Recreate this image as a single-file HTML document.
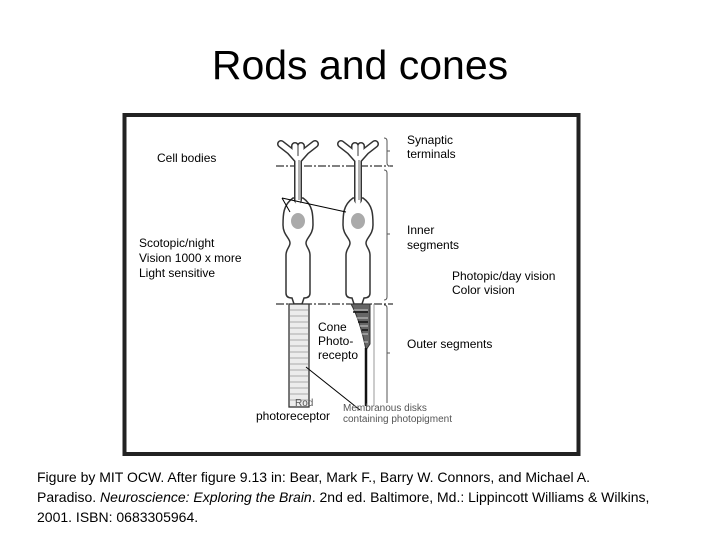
<!DOCTYPE html>
<html><head><meta charset="utf-8"><style>
body{margin:0;width:720px;height:540px;background:#fff;position:relative;overflow:hidden;font-family:"Liberation Sans",sans-serif;}
.t{position:absolute;color:#000;white-space:nowrap}
</style></head><body>
<div class="t" style="left:0;width:720px;text-align:center;top:42px;font-size:41px">Rods and cones</div>
<svg width="720" height="540" style="position:absolute;left:0;top:0" xmlns="http://www.w3.org/2000/svg">
<defs>
<g id="soma">
<path d="M-5 198 C-15 205 -15 215 -15 225 C-15 235 -8 238 -8 243 C-8 247 -12 249 -12 255 V293 Q-12 298 -6 298 L-4 304 H4 L6 298 Q12 298 12 293 V255 C12 249 8 247 8 243 C8 238 15 235 15 225 C15 215 15 205 5 198 Z" fill="#fff" stroke="#333" stroke-width="1.5"/>
<g fill="none" stroke-linecap="round" stroke-linejoin="round">
<path d="M0 200 V160 M0 160 L-8 151 L-17 144 M0 160 L8 151 L17 144 M-3 156 V146 M3 156 V146" stroke="#333" stroke-width="8"/>
<path d="M0 202 V160 M0 160 L-8 151 L-17 144 M0 160 L8 151 L17 144 M-3 156 V146 M3 156 V146" stroke="#fff" stroke-width="5"/>
</g>
<line x1="1" y1="160" x2="1" y2="200" stroke="#999" stroke-width="1.5"/>
<ellipse cx="0" cy="221" rx="7" ry="8" fill="#aaa"/>
</g>
</defs>
<rect x="124.5" y="115" width="454" height="339" fill="none" stroke="#222" stroke-width="4"/>
<g stroke="#000" stroke-width="1" fill="none">
<line x1="276" y1="166" x2="393" y2="166" stroke-dasharray="8,2,2,2"/>
<line x1="276" y1="304" x2="393" y2="304" stroke-dasharray="8,2,2,2"/>
</g>
<g stroke="#555" stroke-width="1" fill="none">
<path d="M384 138 q3 0 3 3 v22 q0 3 3 3"/>
<path d="M384 170 q3 0 3 3 v124 q0 3 -3 3"/>
<path d="M384 305 q3 0 3 3 v95"/>
<line x1="387" y1="151" x2="390" y2="151"/><line x1="387" y1="234" x2="390" y2="234"/><line x1="387" y1="353" x2="390" y2="353"/>
</g>
<use href="#soma" x="298" y="0"/>
<use href="#soma" x="358" y="0"/>
<rect x="289" y="304" width="20" height="103" fill="#ececec" stroke="#333" stroke-width="1.3"/>
<g stroke="#aaa" stroke-width="1">
<path d="M290 310h18M290 316h18M290 322h18M290 328h18M290 334h18M290 340h18M290 346h18M290 352h18M290 358h18M290 364h18M290 370h18M290 376h18M290 382h18M290 388h18M290 394h18M290 400h18"/>
</g>
<path d="M351 304 h19 v40 l-4 6 q-6 -30 -15 -46z" fill="#666" stroke="#333" stroke-width="1"/>
<g stroke="#ccc" stroke-width="1"><path d="M354 310h14M357 318h11M360 326h8M362 334h6M364 342h4"/></g>
<g stroke="#111" stroke-width="1.5"><path d="M353 312h15M358 322h10M362 330h6"/></g>
<line x1="366" y1="348" x2="366" y2="406" stroke="#111" stroke-width="2.5"/>
<line x1="374" y1="304" x2="374" y2="406" stroke="#999" stroke-width="1"/>
<g stroke="#000" stroke-width="1" fill="none">
<path d="M282 198 L290 212 M282 198 L346 212"/>
<line x1="306" y1="367" x2="360" y2="410"/>
</g>
</svg>
<div class="t" style="left:157px;top:151px;font-size:12px">Cell bodies</div>
<div class="t" style="left:407px;top:133px;font-size:12px;line-height:14px">Synaptic<br>terminals</div>
<div class="t" style="left:139px;top:236px;font-size:12px;line-height:15px">Scotopic/night<br>Vision 1000 x more<br>Light sensitive</div>
<div class="t" style="left:407px;top:223px;font-size:12px;line-height:15px">Inner<br>segments</div>
<div class="t" style="left:452px;top:269px;font-size:12px;line-height:14px">Photopic/day vision<br>Color vision</div>
<div class="t" style="left:318px;top:320px;font-size:12px;line-height:14px">Cone<br>Photo-<br>recepto</div>
<div class="t" style="left:407px;top:337px;font-size:12px">Outer segments</div>
<div class="t" style="left:295px;top:398px;font-size:10px;color:#555">Rod</div>
<div class="t" style="left:256px;top:409px;font-size:12px">photoreceptor</div>
<div class="t" style="left:343px;top:403px;font-size:10px;color:#555;line-height:11px">Membranous disks<br>containing photopigment</div>
<div class="t" style="left:37px;top:467px;font-size:14px;line-height:20px">Figure by MIT OCW. After figure 9.13 in: Bear, Mark F., Barry W. Connors, and Michael A.<br>Paradiso. <i>Neuroscience: Exploring the Brain</i>. 2nd ed. Baltimore, Md.: Lippincott Williams &amp; Wilkins,<br>2001. ISBN: 0683305964.</div>
</body></html>
